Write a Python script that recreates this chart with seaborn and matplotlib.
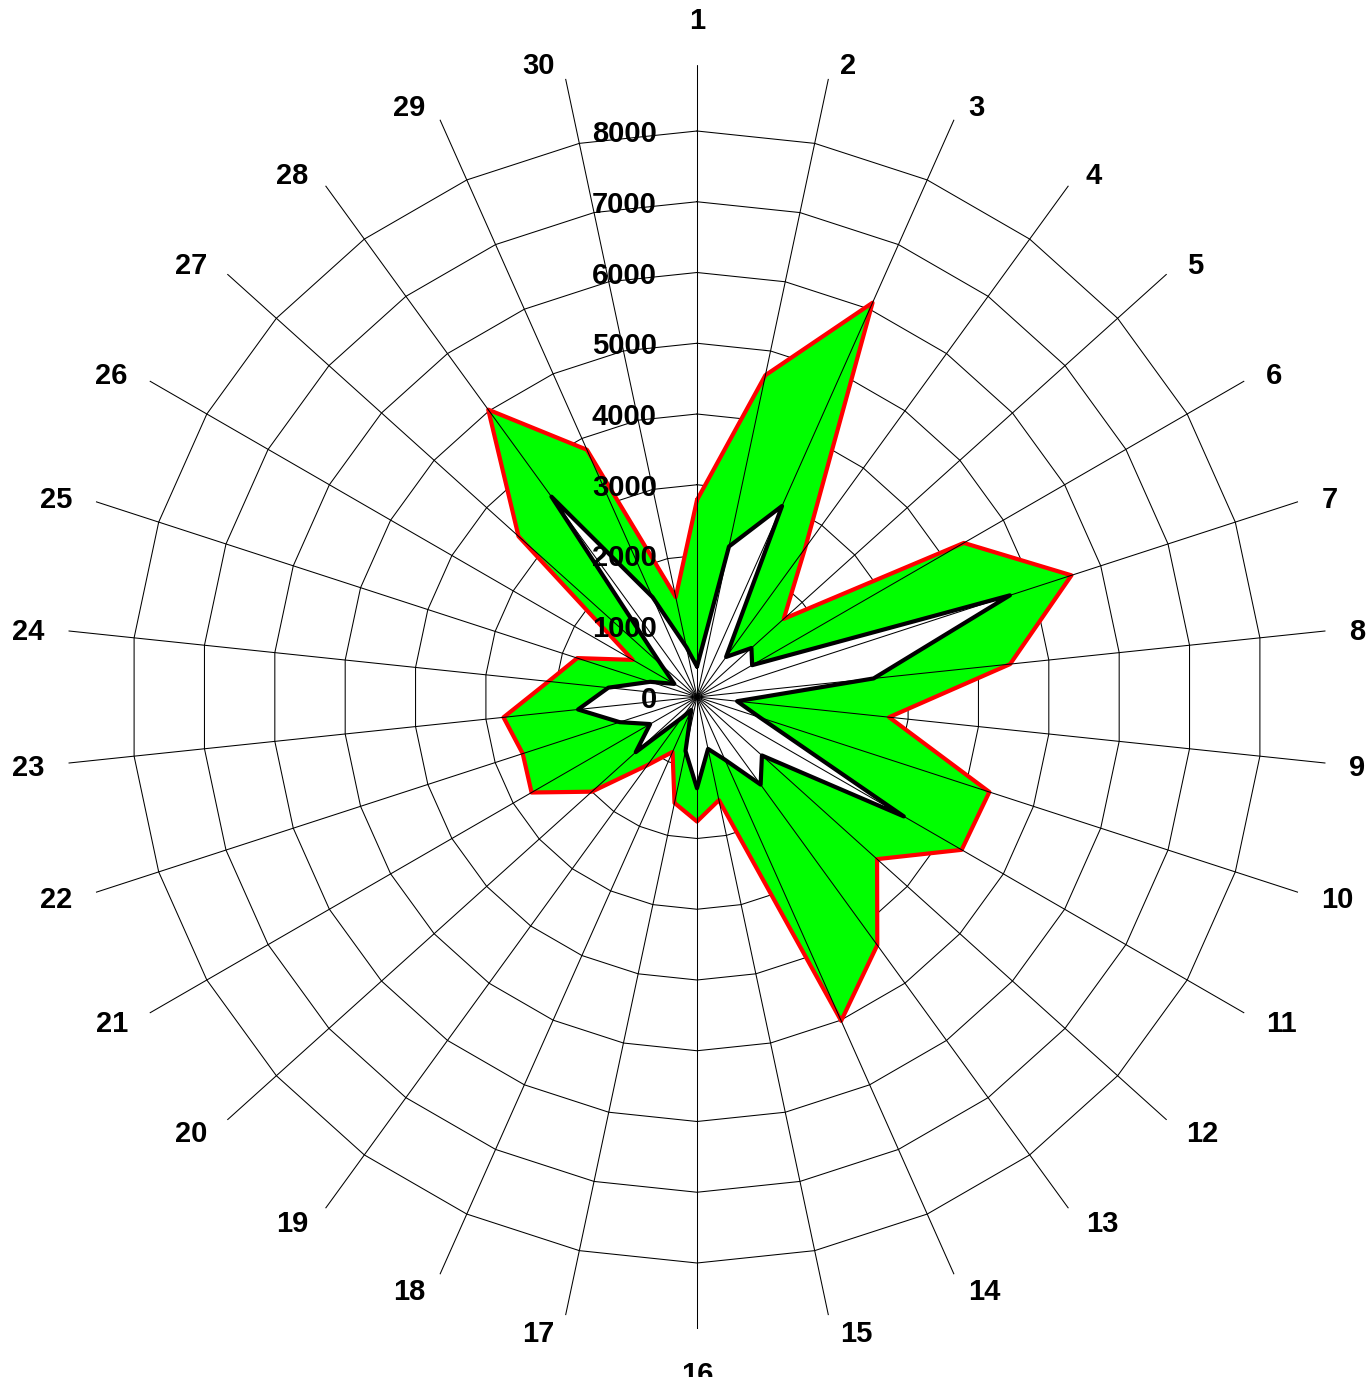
import numpy as np
import matplotlib
matplotlib.use("Agg")
import matplotlib.pyplot as plt
import seaborn as sns
import pandas as pd

# ---- data ----
categories = [str(i) for i in range(1, 31)]
outer_values = [2785, 4650, 6100, 2600, 1650, 4355, 5565, 4450, 2730, 4345,
                4320, 3425, 4335, 5010, 1490, 1760, 1530, 850, 1190, 2000,
                2700, 2590, 2750, 2110, 1780, 1050, 3395, 5020, 3825, 1445]
inner_values = [430, 2175, 2955, 700, 1035, 900, 4650, 2510, 570, 935,
                3375, 1235, 1530, 970, 750, 1290, 780, 200, 360, 1165,
                765, 1150, 1690, 1260, 695, 370, 680, 3500, 1545, 720]
ring_values = [1000, 2000, 3000, 4000, 5000, 6000, 7000, 8000]
tick_values = [0, 1000, 2000, 3000, 4000, 5000, 6000, 7000, 8000]
tick_labels = ["0", "1000", "2000", "3000", "4000", "5000", "6000", "7000", "8000"]

sns.set_style("white")
plt.rcParams['font.family'] = ['Liberation Sans', 'DejaVu Sans']
plt.rcParams['text.color'] = 'black'

W, H = 1369, 1377
fig = plt.figure(figsize=(W / 100, H / 100), dpi=100)
cx, cy = 697, 697
R_px = 632
ax = fig.add_axes([(cx - R_px) / W, (H - cy - R_px) / H, 2 * R_px / W, 2 * R_px / H],
                  projection='polar')
ax.set_theta_zero_location('N')
ax.set_theta_direction(-1)
px_per_unit = 566 / 8000
rmax = R_px / px_per_unit
ax.set_ylim(0, rmax)
ax.axis('off')

n = len(categories)
theta = np.arange(n) * 2 * np.pi / n
theta_c = np.append(theta, 2 * np.pi)

# rings (polygonal)
for r in ring_values:
    ax.plot(theta_c, [r] * (n + 1), color='black', lw=0.75, zorder=1)

def closed(v):
    return np.append(np.asarray(v, float), v[0])

df_out = pd.DataFrame({'theta': theta_c, 'value': closed(outer_values)})
df_in = pd.DataFrame({'theta': theta_c, 'value': closed(inner_values)})

ax.fill(df_out['theta'], df_out['value'], color='#00ff00', zorder=2, lw=0)
sns.lineplot(data=df_out, x='theta', y='value', sort=False, estimator=None,
             color='#ff0000', lw=3, ax=ax, zorder=3)
ax.fill(df_in['theta'], df_in['value'], color='white', zorder=4, lw=0)

# spokes
for t in theta:
    ax.plot([t, t], [0, rmax], color='black', lw=0.75, zorder=5)

sns.lineplot(data=df_in, x='theta', y='value', sort=False, estimator=None,
             color='black', lw=3, ax=ax, zorder=6)

# spoke labels
r_lab = 648 / px_per_unit
fs = 21
for t, c in zip(theta, categories):
    s = np.sin(t)
    co = np.cos(t)
    if abs(s) < 1e-6:
        ha = 'center'
        va = 'bottom' if co > 0 else 'top'
        off = (0, 14 if co > 0 else -16)
    else:
        ha = 'left' if s > 0 else 'right'
        va = 'center_baseline'
        off = (8 if s > 0 else -8, 0)
    ax.annotate(c, xy=(t, r_lab), xytext=off, textcoords='offset pixels',
                ha=ha, va=va, fontsize=fs, fontweight='bold', color='black',
                annotation_clip=False, zorder=10)

# radial tick labels
for v, lbl in zip(tick_values, tick_labels):
    ax.annotate(lbl, xy=(0, v), xytext=(-40, 0), textcoords='offset pixels',
                ha='right', va='center_baseline', fontsize=fs, fontweight='bold',
                color='black', zorder=10, annotation_clip=False)

ax.set_xlabel('')
ax.set_ylabel('')
fig.savefig('out.png', dpi=100)
